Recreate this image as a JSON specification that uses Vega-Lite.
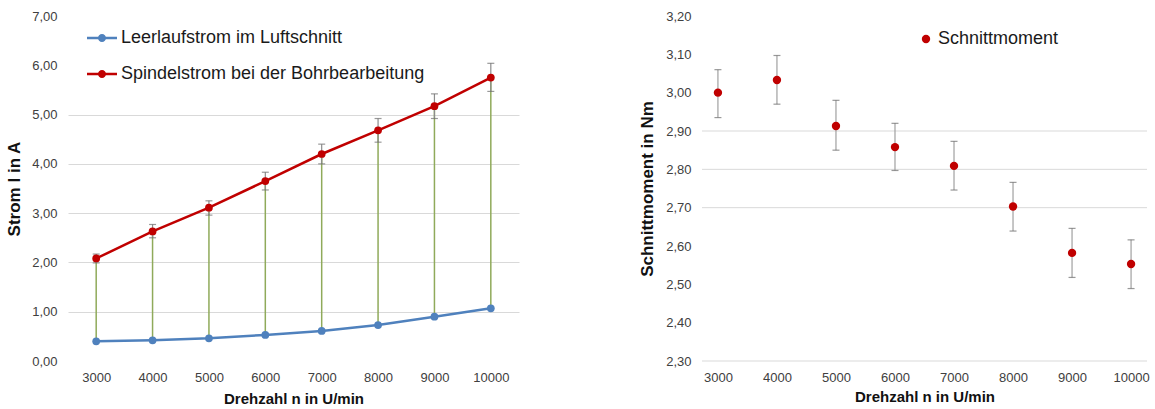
{
  "$schema": "https://vega.github.io/schema/vega-lite/v6.json",
  "padding": {"left": 5, "top": 10, "right": 5, "bottom": 2},
  "bounds": "flush",
  "spacing": 183,
  "datasets": {
    "strom": [
      {"n": 3000, "leer": 0.40, "spindel": 2.08, "lo": 1.99, "hi": 2.17},
      {"n": 4000, "leer": 0.42, "spindel": 2.63, "lo": 2.50, "hi": 2.77},
      {"n": 5000, "leer": 0.46, "spindel": 3.11, "lo": 2.96, "hi": 3.25},
      {"n": 6000, "leer": 0.53, "spindel": 3.65, "lo": 3.47, "hi": 3.83},
      {"n": 7000, "leer": 0.61, "spindel": 4.20, "lo": 4.00, "hi": 4.40},
      {"n": 8000, "leer": 0.73, "spindel": 4.68, "lo": 4.44, "hi": 4.92},
      {"n": 9000, "leer": 0.90, "spindel": 5.17, "lo": 4.92, "hi": 5.42},
      {"n": 10000, "leer": 1.07, "spindel": 5.75, "lo": 5.47, "hi": 6.04}
    ],
    "moment": [
      {"n": 3000, "serie": "Schnittmoment", "moment": 3.000, "lo": 2.935, "hi": 3.060},
      {"n": 4000, "serie": "Schnittmoment", "moment": 3.033, "lo": 2.970, "hi": 3.097},
      {"n": 5000, "serie": "Schnittmoment", "moment": 2.913, "lo": 2.850, "hi": 2.980},
      {"n": 6000, "serie": "Schnittmoment", "moment": 2.858, "lo": 2.797, "hi": 2.920},
      {"n": 7000, "serie": "Schnittmoment", "moment": 2.809, "lo": 2.746, "hi": 2.873},
      {"n": 8000, "serie": "Schnittmoment", "moment": 2.703, "lo": 2.639, "hi": 2.766},
      {"n": 9000, "serie": "Schnittmoment", "moment": 2.582, "lo": 2.518, "hi": 2.646},
      {"n": 10000, "serie": "Schnittmoment", "moment": 2.553, "lo": 2.489, "hi": 2.616}
    ],
    "gitter": [
      {"g": 2.3}, {"g": 2.7}, {"g": 2.8}, {"g": 2.9}
    ]
  },
  "hconcat": [
    {
      "width": 451,
      "height": 345,
      "data": {"name": "strom"},
      "encoding": {
        "x": {
          "field": "n", "type": "ordinal",
          "scale": {"type": "point", "padding": 0.5},
          "axis": {"title": "Drehzahl n in U/min", "labelAngle": 0, "grid": false, "labelPadding": 10, "titlePadding": 7}
        }
      },
      "layer": [
        {
          "mark": {"type": "rule", "color": "#8faa5a", "strokeWidth": 1.5},
          "encoding": {
            "y": {"field": "leer", "type": "quantitative", "scale": {"domain": [0, 7], "nice": false},
              "axis": {"title": "Strom I in A", "values": [0, 1, 2, 3, 4, 5, 6, 7], "tickCount": 20, "labelOverlap": false,
                "gridOpacity": {"condition": {"test": "datum.value < 1 || datum.value > 5", "value": 0}, "value": 1},
                "labelExpr": "replace(format(datum.value, '.2f'), '.', ',')", "labelPadding": 11, "titlePadding": 8}},
            "y2": {"field": "spindel"}
          }
        },
        {
          "mark": {"type": "rule", "color": "#8c8c8c", "strokeWidth": 1.2},
          "encoding": {"y": {"field": "lo", "type": "quantitative"}, "y2": {"field": "hi"}}
        },
        {
          "mark": {"type": "tick", "color": "#6e6e6e", "size": 7, "thickness": 1.2},
          "encoding": {"y": {"field": "lo", "type": "quantitative"}}
        },
        {
          "mark": {"type": "tick", "color": "#6e6e6e", "size": 7, "thickness": 1.2},
          "encoding": {"y": {"field": "hi", "type": "quantitative"}}
        },
        {
          "transform": [{"fold": ["leer", "spindel"], "as": ["serie", "strom"]}],
          "layer": [
            {
              "mark": {"type": "line", "strokeWidth": 2.5},
              "encoding": {
                "y": {"field": "strom", "type": "quantitative"},
                "color": {"field": "serie", "type": "nominal",
                  "scale": {"domain": ["leer", "spindel"], "range": ["#4f81bd", "#c00000"]}}
              }
            },
            {
              "mark": {"type": "point", "filled": true, "opacity": 1, "size": 60},
              "encoding": {
                "y": {"field": "strom", "type": "quantitative"},
                "color": {"field": "serie", "type": "nominal",
                  "legend": {
                    "title": null, "orient": "none", "legendX": 19, "legendY": 7,
                    "direction": "vertical", "padding": 0, "rowPadding": 12,
                    "symbolType": "M-1,-0.08H1V0.08H-1Z M0.27,0A0.27,0.27,0,1,1,-0.27,0A0.27,0.27,0,1,1,0.27,0",
                    "symbolSize": 900, "symbolStrokeWidth": 0, "labelOffset": 4,
                    "labelFontSize": 18, "labelColor": "#1a1a1a", "labelFont": "Liberation Sans", "labelLimit": 500,
                    "labelExpr": "datum.value == 'leer' ? 'Leerlaufstrom im Luftschnitt' : 'Spindelstrom bei der Bohrbearbeitung'"
                  }}
              }
            }
          ]
        }
      ]
    },
    {
      "width": 445,
      "height": 345,
      "layer": [
        {
          "data": {"name": "gitter"},
          "mark": {"type": "rule", "color": "#d9d9d9", "strokeWidth": 1},
          "encoding": {"y": {"field": "g", "type": "quantitative", "scale": {"domain": [2.3, 3.2], "nice": false, "zero": false}}}
        },
        {
          "data": {"name": "moment"},
          "encoding": {
            "x": {
              "field": "n", "type": "ordinal",
              "scale": {"type": "point", "padding": 0.27},
              "axis": {"title": "Drehzahl n in U/min", "labelAngle": 0, "grid": false, "labelPadding": 10, "titlePadding": 5}
            }
          },
          "layer": [
            {
              "mark": {"type": "rule", "color": "#a0a0a0", "strokeWidth": 1.2},
              "encoding": {
                "y": {"field": "lo", "type": "quantitative", "scale": {"domain": [2.3, 3.2], "nice": false, "zero": false},
                  "axis": {"title": "Schnittmoment in Nm", "values": [2.3, 2.4, 2.5, 2.6, 2.7, 2.8, 2.9, 3.0, 3.1, 3.2],
                    "tickCount": 20, "labelOverlap": false, "labelFlush": false, "grid": false,
                    "labelExpr": "replace(format(datum.value, '.2f'), '.', ',')", "labelPadding": 11, "titlePadding": 9}},
                "y2": {"field": "hi"}
              }
            },
            {
              "mark": {"type": "tick", "color": "#6e6e6e", "size": 7, "thickness": 1.2},
              "encoding": {"y": {"field": "lo", "type": "quantitative"}}
            },
            {
              "mark": {"type": "tick", "color": "#6e6e6e", "size": 7, "thickness": 1.2},
              "encoding": {"y": {"field": "hi", "type": "quantitative"}}
            },
            {
              "mark": {"type": "point", "filled": true, "opacity": 1, "size": 70},
              "encoding": {
                "y": {"field": "moment", "type": "quantitative"},
                "color": {"field": "serie", "type": "nominal",
                  "scale": {"range": ["#c00000"]},
                  "legend": {"title": null, "orient": "none", "legendX": 215, "legendY": 14, "padding": 0,
                    "symbolType": "circle", "symbolSize": 70, "labelOffset": 3,
                    "labelFontSize": 18, "labelColor": "#1a1a1a", "labelFont": "Liberation Sans"}}
              }
            }
          ]
        }
      ]
    }
  ],
  "resolve": {"scale": {"color": "independent"}, "legend": {"color": "independent"}},
  "config": {
    "font": "Liberation Sans",
    "view": {"stroke": null},
    "axis": {
      "labelFont": "Liberation Sans", "labelFontSize": 13, "labelColor": "#404040",
      "titleFont": "Liberation Sans", "titleFontSize": 15, "titleFontWeight": "bold", "titleColor": "#111111",
      "domain": false, "ticks": false, "gridColor": "#d9d9d9", "gridWidth": 1
    },
    "axisY": {"titleFontSize": 17}
  }
}
